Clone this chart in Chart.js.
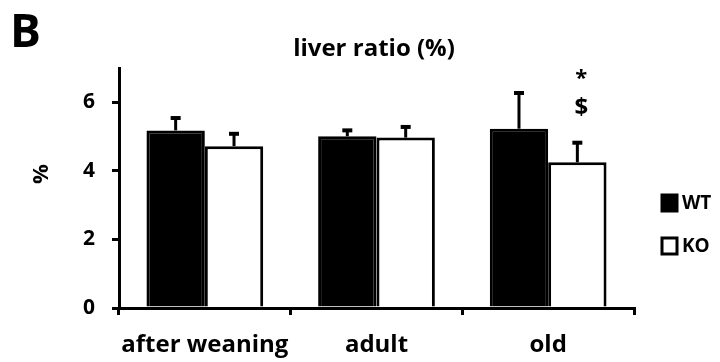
<!DOCTYPE html>
<html>
<head>
<meta charset="utf-8">
<script src="https://cdn.jsdelivr.net/npm/chart.js@4"></script>
<style>
  html, body { margin: 0; padding: 0; background: #fff; }
  #wrap { position: relative; width: 720px; height: 362px; }
</style>
</head>
<body>
<div id="wrap"><canvas id="liverChart" width="720" height="362"></canvas></div>
<script>
const categories = ['after weaning', 'adult', 'old'];
const wtMeans = [5.18, 5.01, 5.23];
const wtErr = [0.39, 0.2, 1.07];
const koMeans = [4.72, 4.97, 4.25];
const koErr = [0.39, 0.34, 0.6];
const yTicks = [0, 2, 4, 6];
const legendLabels = ['WT', 'KO'];
const koMarks = ['', '', '*\n$'];

const FONT = '"Open Sans", Lato, sans-serif';

// error bars (upward only) + extra texts
const extras = {
    id: 'extras',
    afterDatasetsDraw(chart) {
        const ctx = chart.ctx;
        const y = chart.scales.y;
        const errs = [wtErr, koErr];
        const means = [wtMeans, koMeans];
        ctx.save();
        ctx.strokeStyle = '#000';
        ctx.lineCap = 'butt';
        for (let d = 0; d < 2; d++) {
            const meta = chart.getDatasetMeta(d);
            meta.data.forEach((bar, i) => {
                const top = y.getPixelForValue(means[d][i] + errs[d][i]);
                const base = y.getPixelForValue(means[d][i]);
                ctx.lineWidth = 3;
                ctx.beginPath();
                ctx.moveTo(bar.x, base);
                ctx.lineTo(bar.x, top);
                ctx.stroke();
                ctx.lineWidth = 4;
                ctx.beginPath();
                ctx.moveTo(bar.x - 5, top + 1);
                ctx.lineTo(bar.x + 5, top + 1);
                ctx.stroke();
            });
        }
        // significance marks above KO
        const ko = chart.getDatasetMeta(1);
        ctx.fillStyle = '#000';
        ctx.textAlign = 'center';
        ctx.textBaseline = 'middle';
        koMarks.forEach((m, i) => {
            if (!m) return;
            const parts = m.split('\n');
            ctx.font = 'bold 22px ' + FONT;
            ctx.fillText(parts[0], ko.data[i].x + 4, 79);
            ctx.font = 'bold 24px ' + FONT;
            ctx.fillText(parts[1], ko.data[i].x + 4, 108);
        });
        // panel letter
        ctx.textAlign = 'left';
        ctx.textBaseline = 'alphabetic';
        ctx.font = 'bold 46px ' + FONT;
        ctx.fillText('B', 10, 47);
        // title
        ctx.textAlign = 'center';
        ctx.font = 'bold 24px ' + FONT;
        ctx.fillText('liver ratio (%)', 374, 56);
        // y axis label
        ctx.save();
        ctx.translate(42, 174);
        ctx.rotate(-Math.PI / 2);
        ctx.textBaseline = 'middle';
        ctx.font = 'bold 22px ' + FONT;
        ctx.fillText('%', 0, 0);
        ctx.restore();
        // legend
        ctx.textAlign = 'left';
        ctx.textBaseline = 'middle';
        ctx.font = 'bold 19px ' + FONT;
        const rows = [203, 246];
        legendLabels.forEach((lab, i) => {
            ctx.lineWidth = 3;
            ctx.fillStyle = i === 0 ? '#000' : '#fff';
            ctx.fillRect(662, rows[i] - 8, 15, 16);
            ctx.strokeRect(662, rows[i] - 8, 15, 16);
            ctx.fillStyle = '#000';
            ctx.fillText(lab, 682, rows[i] + 1);
        });
        ctx.restore();
    }
};

new Chart(document.getElementById('liverChart'), {
    type: 'bar',
    data: {
        labels: categories,
        datasets: [{
            label: legendLabels[0],
            data: wtMeans,
            backgroundColor: '#000',
            borderColor: '#000',
            borderWidth: 3
        }, {
            label: legendLabels[1],
            data: koMeans,
            backgroundColor: '#fff',
            borderColor: '#000',
            borderWidth: 3
        }]
    },
    options: {
        responsive: false,
        animation: false,
        layout: { padding: { left: 0, right: 86, top: 68, bottom: 0 } },
        plugins: { legend: { display: false }, title: { display: false }, tooltip: { enabled: false } },
        datasets: { bar: { categoryPercentage: 0.68, barPercentage: 1.0 } },
        scales: {
            x: {
                offset: true,
                afterFit(s) { s.height = 54; },
                grid: { offset: true, drawOnChartArea: false, color: '#000', lineWidth: 3, tickLength: 7 },
                border: { color: '#000', width: 3 },
                ticks: {
                    color: '#000', padding: 16, autoSkip: false, maxRotation: 0, minRotation: 0,
                    font: { family: FONT, size: 24, weight: 'bold' }
                }
            },
            y: {
                min: 0,
                max: 7,
                afterFit(s) { s.width = 119; },
                afterBuildTicks(s) { s.ticks = yTicks.map(v => ({ value: v })); },
                grid: { drawOnChartArea: false, color: '#000', lineWidth: 3, tickLength: 7 },
                border: { color: '#000', width: 3 },
                ticks: { color: '#000', padding: 17, font: { family: FONT, size: 21, weight: 'bold' } }
            }
        }
    },
    plugins: [extras]
});
</script>
</body>
</html>
